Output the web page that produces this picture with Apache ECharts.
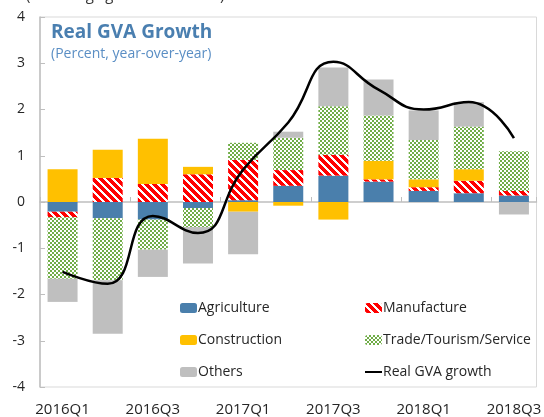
<!DOCTYPE html>
<html>
<head>
<meta charset="utf-8">
<script src="https://cdn.jsdelivr.net/npm/echarts@6/dist/echarts.min.js"></script>
<style>
  html, body { margin: 0; padding: 0; background: #fff; }
  #chart { width: 544px; height: 417px; }
</style>
</head>
<body>
<div id="chart"></div>
<script>
// quarters
const categories = ['2016Q1', '2016Q2', '2016Q3', '2016Q4', '2017Q1', '2017Q2',
  '2017Q3', '2017Q4', '2018Q1', '2018Q2', '2018Q3']

// contributions (percentage points)
const agriculture = [-0.21, -0.35, -0.38, -0.13, 0.04, 0.35, 0.57, 0.44, 0.24, 0.19, 0.14]
const manufacture = [-0.12, 0.52, 0.39, 0.60, 0.87, 0.34, 0.45, 0.05, 0.08, 0.27, 0.10]
const construction = [0.71, 0.61, 0.98, 0.16, -0.21, -0.08, -0.38, 0.40, 0.17, 0.25, 0]
const trade = [-1.33, -1.34, -0.65, -0.41, 0.37, 0.70, 1.05, 0.98, 0.85, 0.92, 0.86]
const others = [-0.50, -1.16, -0.59, -0.79, -0.92, 0.13, 0.84, 0.78, 0.64, 0.53, -0.27]

// real GVA growth
const gvaGrowth = [-1.51, -1.77, -0.30, -0.67, 0.70, 1.72, 3.03, 2.43, 2.00, 2.16, 1.38]

// pattern fills, like excel's hatch fills
function makePattern(size, fg, test) {
  const c = document.createElement('canvas')
  c.width = size
  c.height = size
  const ctx = c.getContext('2d')
  ctx.fillStyle = '#ffffff'
  ctx.fillRect(0, 0, size, size)
  ctx.fillStyle = fg
  for (let x = 0; x < size; x++) {
    for (let y = 0; y < size; y++) {
      if (test(x, y)) ctx.fillRect(x, y, 1, 1)
    }
  }
  return { image: c, repeat: 'repeat' }
}

const stripes = makePattern(8, '#ff0000', (x, y) => ((x - y + 16) % 8) < 5)
const checker = makePattern(4, '#70ad47', (x, y) => (Math.floor(x / 2) + Math.floor(y / 2)) % 2 === 0)

const chart = echarts.init(document.getElementById('chart'))

const barSeries = (name, data, color) => ({
  name: name,
  type: 'bar',
  stack: 'gva',
  barWidth: 30,
  data: data,
  itemStyle: { color: color }
})

const legendBase = {
  top: 299,
  padding: 0,
  orient: 'vertical',
  itemWidth: 17,
  itemHeight: 10,
  itemGap: 14,
  textStyle: { fontSize: 14, color: '#262626', lineHeight: 18, padding: [0, 0, 0, -4] }
}

chart.setOption({
  animation: false,
  textStyle: { fontFamily: 'Open Sans' },
  title: {
    text: 'Real GVA Growth',
    subtext: '(Percent, year-over-year)',
    left: 46,
    top: 18,
    itemGap: 5,
    textStyle: { fontSize: 19, fontWeight: 'bold', color: '#4a7fb0', fontFamily: 'Open Sans' },
    subtextStyle: { fontSize: 14, color: '#5a8ec4', fontFamily: 'Open Sans' }
  },
  graphic: [{
    type: 'text',
    left: 0,
    top: -12,
    style: { text: 'ate (including light-vehicle sales).', fontSize: 15, fill: '#333', fontFamily: 'Open Sans' }
  }],
  legend: [
    Object.assign({}, legendBase, {
      left: 180,
      data: ['Agriculture', 'Construction', 'Others']
    }),
    Object.assign({}, legendBase, {
      left: 364,
      data: ['Manufacture', 'Trade/Tourism/Service',
        { name: 'Real GVA growth', itemStyle: { opacity: 0 } }]
    })
  ],
  grid: {
    left: 40,
    right: 3,
    top: 17,
    bottom: 28,
    show: true,
    borderColor: '#d9d9d9',
    borderWidth: 1
  },
  xAxis: [
    {
      type: 'category',
      data: categories,
      position: 'bottom',
      axisLine: { show: false, onZero: false },
      axisTick: { show: false },
      axisLabel: { interval: 1, fontSize: 15, color: '#262626', margin: 15 }
    },
    {
      type: 'category',
      data: categories,
      position: 'top',
      axisLine: { show: true, onZero: true, lineStyle: { color: '#bfbfbf', width: 1.5 } },
      axisTick: { show: true, inside: false, length: 5, lineStyle: { color: '#bfbfbf' } },
      axisLabel: { show: false }
    }
  ],
  yAxis: {
    type: 'value',
    min: -4,
    max: 4,
    interval: 1,
    axisLine: { show: true, lineStyle: { color: '#bfbfbf', width: 1.5 } },
    axisTick: { show: true, inside: true, length: 5, lineStyle: { color: '#bfbfbf' } },
    axisLabel: { fontSize: 14, color: '#262626', margin: 15 },
    splitLine: { show: false }
  },
  series: [
    barSeries('Agriculture', agriculture, '#4a7fac'),
    barSeries('Manufacture', manufacture, stripes),
    barSeries('Construction', construction, '#ffc000'),
    barSeries('Trade/Tourism/Service', trade, checker),
    barSeries('Others', others, '#bfbfbf'),
    {
      name: 'Real GVA growth',
      type: 'line',
      data: gvaGrowth,
      smooth: 0.5,
      symbol: 'none',
      z: 5,
      lineStyle: { color: '#000', width: 2.5 },
      itemStyle: { color: '#000' }
    }
  ]
})
</script>
</body>
</html>
